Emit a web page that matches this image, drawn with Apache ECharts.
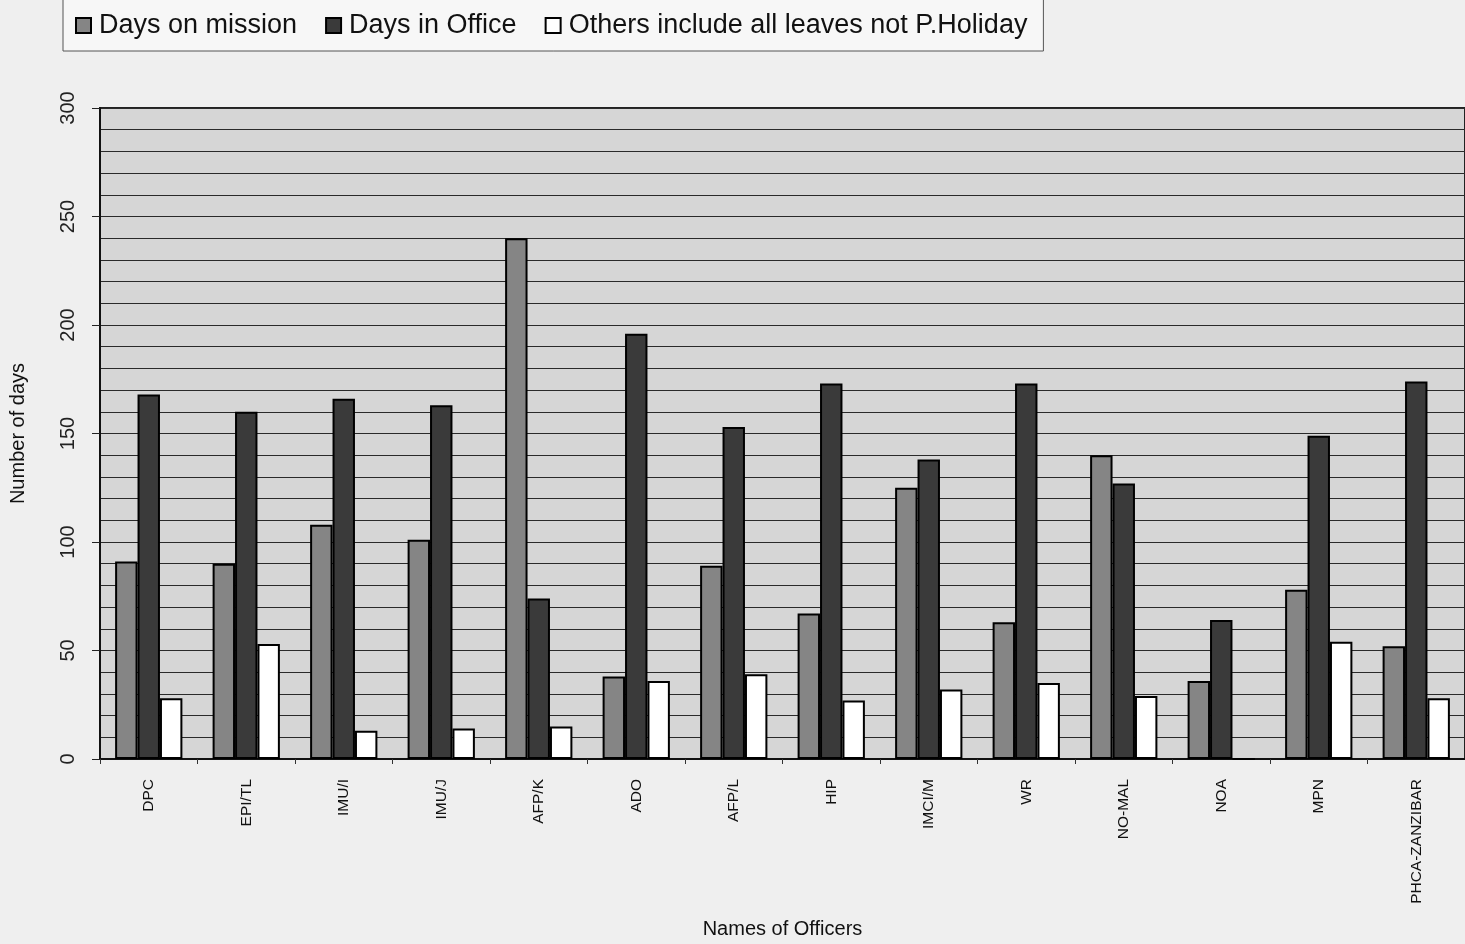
<!DOCTYPE html>
<html>
<head>
<meta charset="utf-8">
<script src="https://cdn.jsdelivr.net/npm/echarts@6/dist/echarts.min.js"></script>
<style>
  html, body { margin: 0; padding: 0; background: #efefef; }
  #chart { width: 1465px; height: 944px; }
</style>
</head>
<body>
<div id="chart"></div>
<script>
const officers = ['DPC', 'EPI/TL', 'IMU/I', 'IMU/J', 'AFP/K', 'ADO', 'AFP/L', 'HIP', 'IMCI/M', 'WR', 'NO-MAL', 'NOA', 'MPN', 'PHCA-ZANZIBAR'];
const daysOnMission = [91, 90, 108, 101, 240, 38, 89, 67, 125, 63, 140, 36, 78, 52];
const daysInOffice = [168, 160, 166, 163, 74, 196, 153, 173, 138, 173, 127, 64, 149, 174];
const otherLeaves = [28, 53, 13, 14, 15, 36, 39, 27, 32, 35, 29, 0, 54, 28];

const font = '"Liberation Sans", Arial, sans-serif';
const chart = echarts.init(document.getElementById('chart'));

const option = {
  backgroundColor: '#efefef',
  textStyle: { fontFamily: font, color: '#111' },
  legend: {
    left: 63,
    top: -2,
    padding: [14, 16, 12, 12],
    itemGap: 28,
    itemWidth: 15,
    itemHeight: 15,
    icon: 'rect',
    backgroundColor: '#f7f7f7',
    borderColor: '#555',
    borderWidth: 1,
    textStyle: { fontSize: 27, fontFamily: font, color: '#111', padding: [0, 0, 0, 3] },
    data: ['Days on mission', 'Days in Office', 'Others include all leaves not P.Holiday']
  },
  grid: {
    left: 100,
    top: 108,
    bottom: 185,
    width: 1379,
    show: true,
    backgroundColor: '#d6d6d6',
    borderColor: '#222',
    borderWidth: 2
  },
  xAxis: {
    type: 'category',
    data: officers,
    name: 'Names of Officers',
    nameLocation: 'middle',
    nameGap: 160,
    nameTextStyle: { fontSize: 20, fontFamily: font, color: '#111' },
    axisLine: { lineStyle: { color: '#111', width: 2 } },
    axisTick: { show: true, length: 5, lineStyle: { color: '#333' } },
    axisLabel: { rotate: 90, fontSize: 15.5, color: '#111', margin: 20 }
  },
  yAxis: {
    type: 'value',
    min: 0,
    max: 300,
    interval: 50,
    name: 'Number of days',
    nameLocation: 'middle',
    nameGap: 72,
    nameRotate: 90,
    nameTextStyle: { fontSize: 20, fontFamily: font, color: '#111' },
    axisLine: { show: true, lineStyle: { color: '#111', width: 2 } },
    axisTick: { show: true, length: 8, lineStyle: { color: '#222' } },
    axisLabel: { rotate: 90, fontSize: 20, color: '#222', margin: 22 },
    splitLine: { lineStyle: { color: '#2a2a2a', width: 1.2 } },
    minorTick: { show: false, splitNumber: 5 },
    minorSplitLine: { show: true, lineStyle: { color: '#2a2a2a', width: 1.2 } }
  },
  series: [
    {
      name: 'Days on mission',
      type: 'bar',
      data: daysOnMission,
      barGap: '0%',
      barCategoryGap: '31%',
      itemStyle: { color: '#858585', borderColor: '#000', borderWidth: 2 }
    },
    {
      name: 'Days in Office',
      type: 'bar',
      data: daysInOffice,
      itemStyle: { color: '#3a3a3a', borderColor: '#000', borderWidth: 2 }
    },
    {
      name: 'Others include all leaves not P.Holiday',
      type: 'bar',
      data: otherLeaves,
      itemStyle: { color: '#ffffff', borderColor: '#000', borderWidth: 2 }
    }
  ]
};

chart.setOption(option);
</script>
</body>
</html>
